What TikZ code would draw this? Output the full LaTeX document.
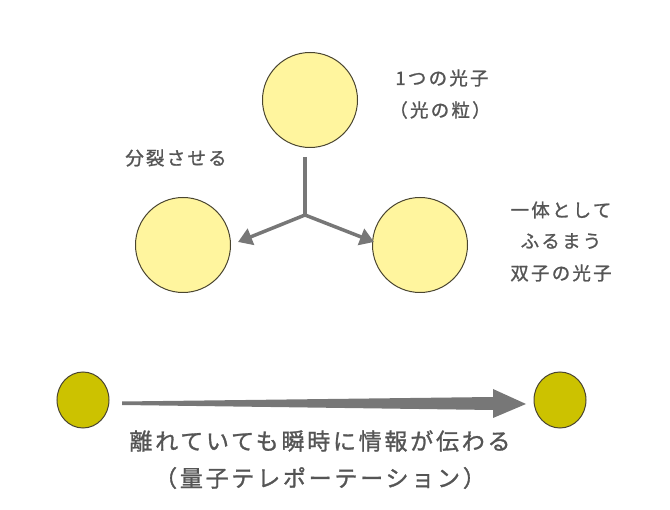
\documentclass[tikz,border=0pt]{standalone}
\usepackage{fontspec}
\newfontfamily\cjk[LetterSpace=12,FakeBold=1.2]{Noto Sans CJK JP}
\usetikzlibrary{arrows.meta,shapes.geometric}
\definecolor{lightball}{HTML}{FFF59E}
\definecolor{darkball}{HTML}{CCC200}
\definecolor{ballline}{HTML}{4A4530}
\definecolor{txt}{HTML}{555555}
\definecolor{arr}{HTML}{777777}
\begin{document}
\begin{tikzpicture}[x=1pt,y=-1pt,
  big/.style={circle,draw=ballline,line width=1pt,fill=lightball,minimum size=95pt,inner sep=0pt},
  small/.style={ellipse,draw=ballline,line width=1pt,fill=darkball,minimum width=52pt,minimum height=56pt,inner sep=0pt},
  lab/.style={text=txt,font=\cjk\fontsize{18.5}{22}\selectfont,align=center},
  blab/.style={text=txt,font=\cjk\fontsize{23}{27}\selectfont,align=center},
  conn/.style={draw=arr,line width=3.5pt},
  tip/.style={-{Triangle[length=14pt,width=17pt]}}]
\useasboundingbox (0,0) rectangle (670,510);
\node[big] (top) at (310,100) {};
\node[big] (left) at (183,245) {};
\node[big] (right) at (420,245) {};
\coordinate (j) at (305,215);
\coordinate (jt) at (305,157);
\coordinate (la) at (238,242);
\coordinate (ra) at (374,242);
\draw[conn] (jt) -- (j);
\draw[conn,tip] (j) -- (la);
\draw[conn,tip] (j) -- (ra);
\node[lab] (t1) at (442,78) {1つの光子};
\node[lab] (t2) at (440,110) {（光の粒）};
\node[lab] (t3) at (176,158) {分裂させる};
\node[lab] (t4) at (561,210) {一体として};
\node[lab] (t5) at (561,241) {ふるまう};
\node[lab] (t6) at (561,273) {双子の光子};
\node[small] (s1) at (83,400) {};
\node[small] (s2) at (560,400) {};
\fill[arr] (122,401.5) -- (493,397) -- (493,389) -- (526,404) -- (493,418) -- (493,410) -- (122,405) -- cycle;
\node[blab] (b1) at (320,441) {離れていても瞬時に情報が伝わる};
\node[blab] (b2) at (320,478) {（量子テレポーテーション）};
\end{tikzpicture}
\end{document}
